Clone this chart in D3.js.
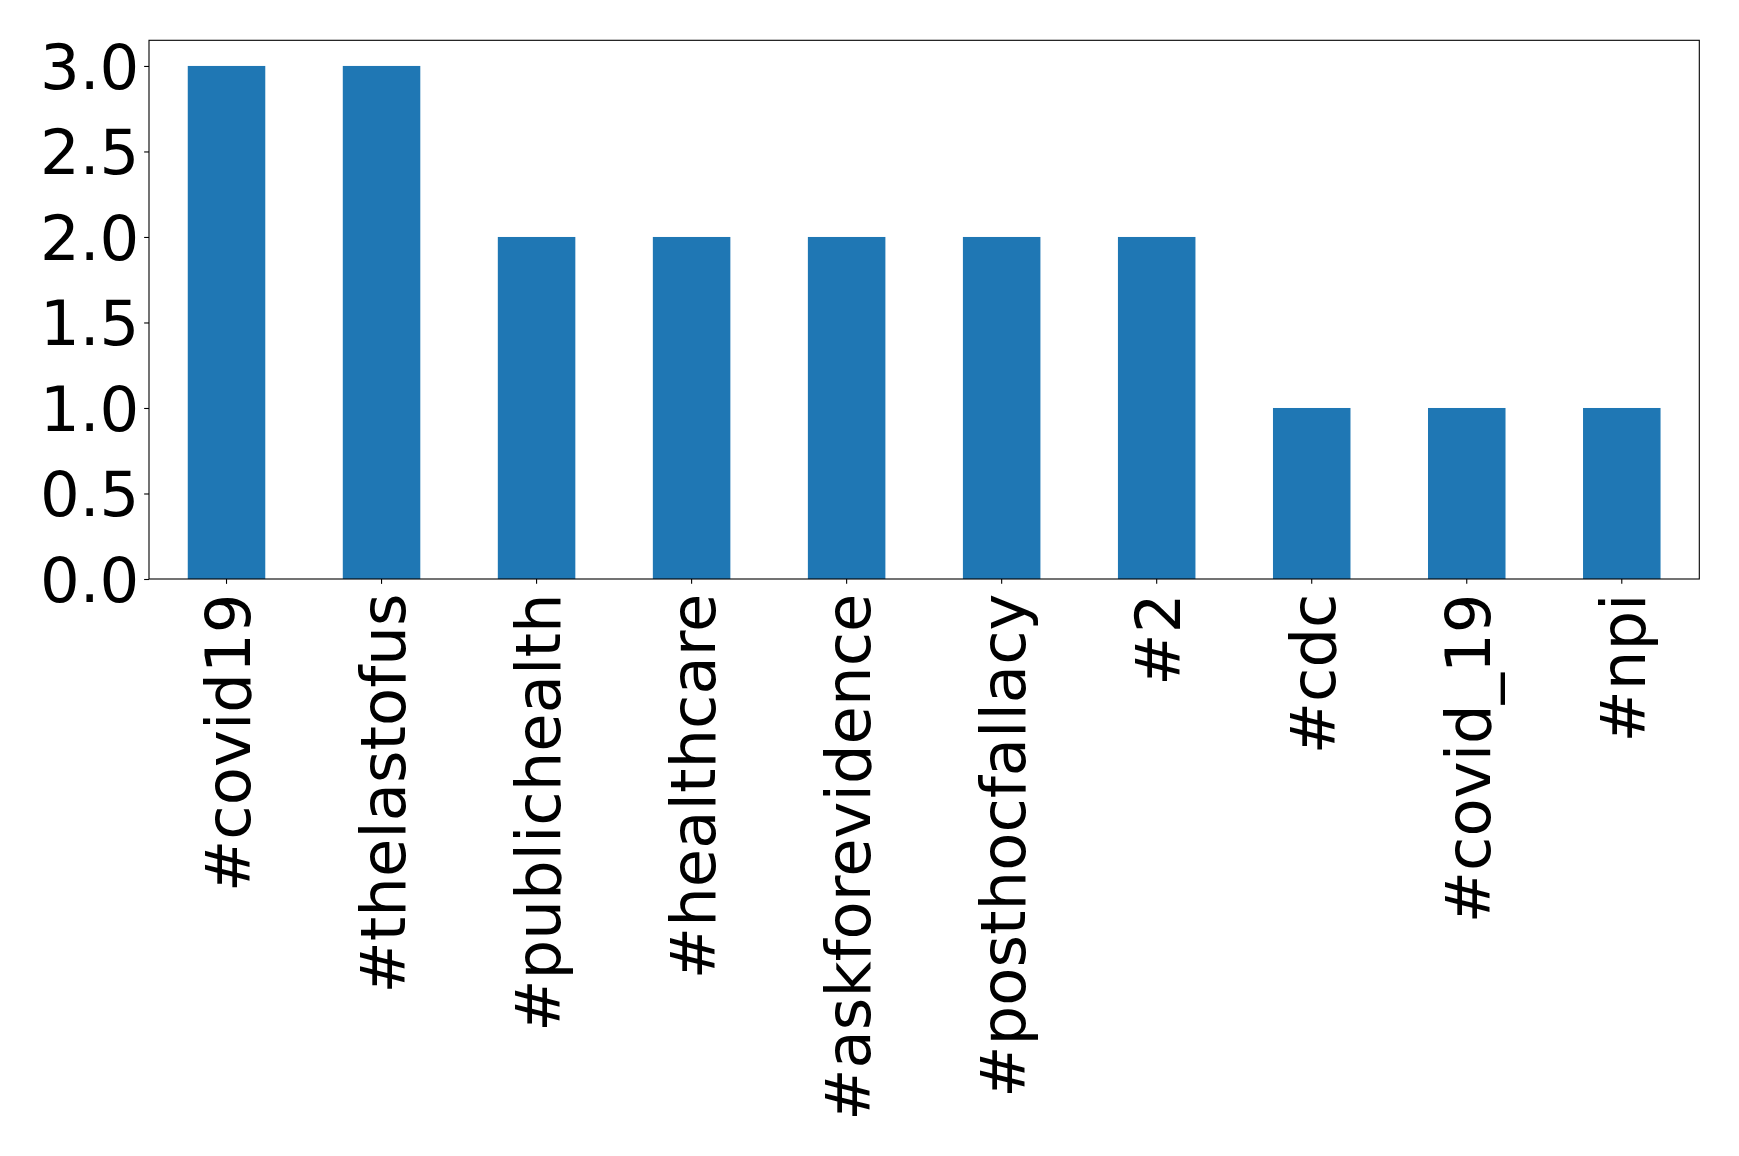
<!DOCTYPE html>
<html>
<head>
<meta charset="utf-8">
<script src="https://cdn.jsdelivr.net/npm/d3@7"></script>
<style>
html,body{margin:0;padding:0;background:#fff;}
svg{display:block;}
</style>
</head>
<body>
<svg id="chart" width="1739" height="1156"></svg>
<script>
const categories = ["#covid19","#thelastofus","#publichealth","#healthcare","#askforevidence","#posthocfallacy","#2","#cdc","#covid_19","#npi"];
const values = [3,3,2,2,2,2,2,1,1,1];
const yTicks = [0,0.5,1.0,1.5,2.0,2.5,3.0];

const W = 1739, H = 1156;
const margin = {left:149, right:W-1699.3, top:40.3, bottom:H-579};
const svg = d3.select("#chart");
const pw = W - margin.left - margin.right;
const ph = H - margin.top - margin.bottom;
const g = svg.append("g").attr("transform",`translate(${margin.left},${margin.top})`);

const x = d3.scaleBand().domain(categories).range([0,pw]).paddingInner(0.5).paddingOuter(0.25);
const y = d3.scaleLinear().domain([0,3.15]).range([ph,0]);

g.selectAll("rect.bar").data(values).enter().append("rect")
  .attr("class","bar")
  .attr("x",(d,i)=>x(categories[i]))
  .attr("y",d=>y(d))
  .attr("width",x.bandwidth())
  .attr("height",d=>y(0)-y(d))
  .attr("fill","#1f77b4");

const fontSize = 62.5;
const yAxis = d3.axisLeft(y).tickValues(yTicks).tickFormat(d3.format(".1f")).tickSize(4.86).tickPadding(4.86);
const ya = g.append("g").call(yAxis);
ya.select(".domain").remove();
ya.selectAll("text").attr("font-family","DejaVu Sans").attr("font-size",fontSize).attr("fill","#000").attr("dy","0.36em");
ya.selectAll("line").attr("stroke","#000").attr("stroke-width",1.1);

const xAxis = d3.axisBottom(x).tickSize(4.86).tickPadding(4.86);
const xa = g.append("g").attr("transform",`translate(0,${ph})`).call(xAxis);
xa.select(".domain").remove();
xa.selectAll("line").attr("stroke","#000").attr("stroke-width",1.1);
xa.selectAll("text")
  .attr("font-family","DejaVu Sans").attr("font-size",fontSize).attr("fill","#000")
  .attr("text-anchor","end")
  .attr("transform","rotate(-90)")
  .attr("x",-14.5).attr("y",0).attr("dy","0.37em");

g.append("rect").attr("x",0).attr("y",0).attr("width",pw).attr("height",ph)
  .attr("fill","none").attr("stroke","#000").attr("stroke-width",1.1);
</script>
</body>
</html>
